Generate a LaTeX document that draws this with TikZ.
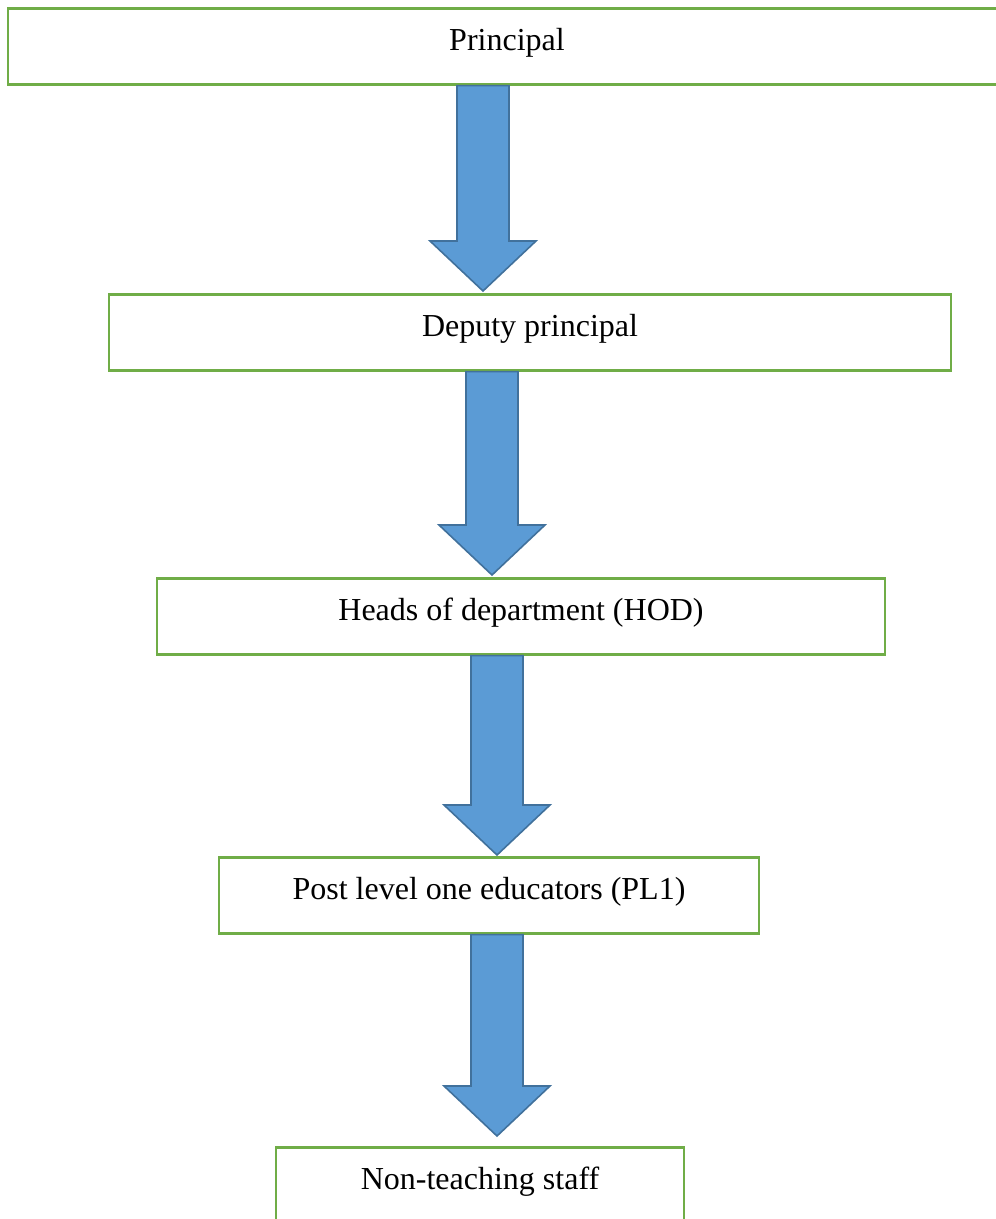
\documentclass[tikz,border=0pt]{standalone}
\usepackage{fontspec}
\setmainfont{Liberation Serif}
\usepackage{tikz}
\usepackage{xcolor}
\usetikzlibrary{calc}
\definecolor{boxgreen}{HTML}{70AD47}
\definecolor{arrowfill}{HTML}{5B9BD5}
\definecolor{arrowline}{HTML}{41719C}
\tikzstyle{stagebox} = [
    draw=boxgreen,
    line width=2.6pt,
    rectangle,
    anchor=north,
    inner xsep=0pt,
    inner ysep=0pt,
    text height=42pt,
    text depth=34pt,
    font=\fontsize{32}{38}\selectfont
    ]
\tikzstyle{blockarrow} = [
    fill=arrowfill,
    draw=arrowline,
    line width=1.6pt,
    line join=miter
    ]
\newcommand{\stagearrow}[4]{% block arrow from #1 down to #2, centred at x=#3, stopping #4 short
\draw[blockarrow] let \p1=(#1.south), \p2=(#2.north) in
    (#3-26pt,\y1) -- (#3-26pt,\y2+#4+50pt) -- (#3-53pt,\y2+#4+50pt)
    -- (#3,\y2+#4) -- (#3+53pt,\y2+#4+50pt) -- (#3+26pt,\y2+#4+50pt)
    -- (#3+26pt,\y1) -- cycle;
}

\begin{document}
\begin{tikzpicture}
\useasboundingbox (0,0) rectangle (996pt,-1219pt);
\node[stagebox, minimum width=998pt] (principal) at (507pt,-7pt) {Principal};
\node[stagebox, minimum width=842pt] (deputy) at (530pt,-293pt) {Deputy principal};
\node[stagebox, minimum width=728pt] (hod) at (521pt,-577pt) {Heads of department (HOD)};
\node[stagebox, minimum width=540pt] (pl1) at (489pt,-856pt) {Post level one educators (PL1)};
\node[stagebox, minimum width=408pt] (staff) at (480pt,-1146pt) {Non-teaching staff};

\stagearrow{principal}{deputy}{483pt}{2pt}
\stagearrow{deputy}{hod}{492pt}{2pt}
\stagearrow{hod}{pl1}{497pt}{1pt}
\stagearrow{pl1}{staff}{497pt}{10pt}
\end{tikzpicture}
\end{document}
